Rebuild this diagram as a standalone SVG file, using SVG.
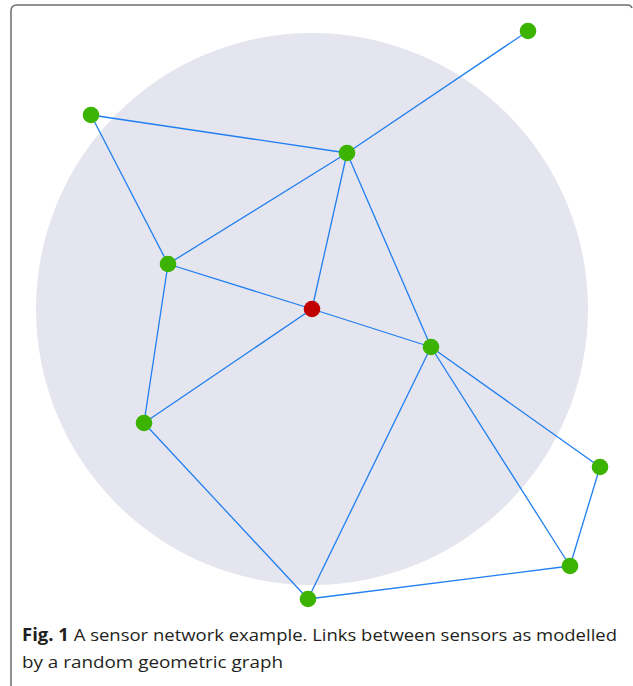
<svg xmlns="http://www.w3.org/2000/svg" width="633" height="686" viewBox="0 0 633 686">
<style>
.edge{stroke:#1f7ff0;stroke-width:1.3;fill:none}
.node{fill:#3cb300}
.sink{fill:#c00000}
.cap{font-family:"Open Sans","Liberation Sans",sans-serif;font-size:17px;fill:#231f20}
</style>
<rect width="633" height="686" fill="#fff"/>
<path d="M11 686 V11 Q11 5 17 5 H628 Q631 5 632 8" fill="none" stroke="#6e6e6e" stroke-width="1.5"/>
<circle cx="312" cy="309" r="276" fill="#e5e5f0"/>
<g id="connectors">
<line class="edge" x1="528" y1="31" x2="347" y2="153"/>
<line class="edge" x1="91" y1="115" x2="347" y2="153"/>
<line class="edge" x1="91" y1="115" x2="168" y2="264"/>
<line class="edge" x1="347" y1="153" x2="168" y2="264"/>
<line class="edge" x1="347" y1="153" x2="312" y2="309"/>
<line class="edge" x1="347" y1="153" x2="431" y2="347"/>
<line class="edge" x1="168" y1="264" x2="312" y2="309"/>
<line class="edge" x1="312" y1="309" x2="431" y2="347"/>
<line class="edge" x1="168" y1="264" x2="144" y2="423"/>
<line class="edge" x1="312" y1="309" x2="144" y2="423"/>
<line class="edge" x1="144" y1="423" x2="308" y2="599"/>
<line class="edge" x1="431" y1="347" x2="308" y2="599"/>
<line class="edge" x1="431" y1="347" x2="600" y2="467"/>
<line class="edge" x1="431" y1="347" x2="570" y2="566"/>
<line class="edge" x1="600" y1="467" x2="570" y2="566"/>
<line class="edge" x1="570" y1="566" x2="308" y2="599"/>
</g>
<g id="n1"><circle class="node" cx="528" cy="31" r="8.3"/></g>
<g id="n2"><circle class="node" cx="91" cy="115" r="8.3"/></g>
<g id="n3"><circle class="node" cx="347" cy="153" r="8.3"/></g>
<g id="n4"><circle class="node" cx="168" cy="264" r="8.3"/></g>
<g id="sink"><circle class="sink" cx="312" cy="309" r="8.3"/></g>
<g id="n5"><circle class="node" cx="431" cy="347" r="8.3"/></g>
<g id="n6"><circle class="node" cx="144" cy="423" r="8.3"/></g>
<g id="n7"><circle class="node" cx="600" cy="467" r="8.3"/></g>
<g id="n8"><circle class="node" cx="570" cy="566" r="8.3"/></g>
<g id="n9"><circle class="node" cx="308" cy="599" r="8.3"/></g>
<text class="cap" x="22" y="641" textLength="595" lengthAdjust="spacingAndGlyphs"><tspan font-weight="bold">Fig. 1</tspan> A sensor network example. Links between sensors as modelled</text>
<text class="cap" x="22" y="668" textLength="261" lengthAdjust="spacingAndGlyphs">by a random geometric graph</text>
</svg>
